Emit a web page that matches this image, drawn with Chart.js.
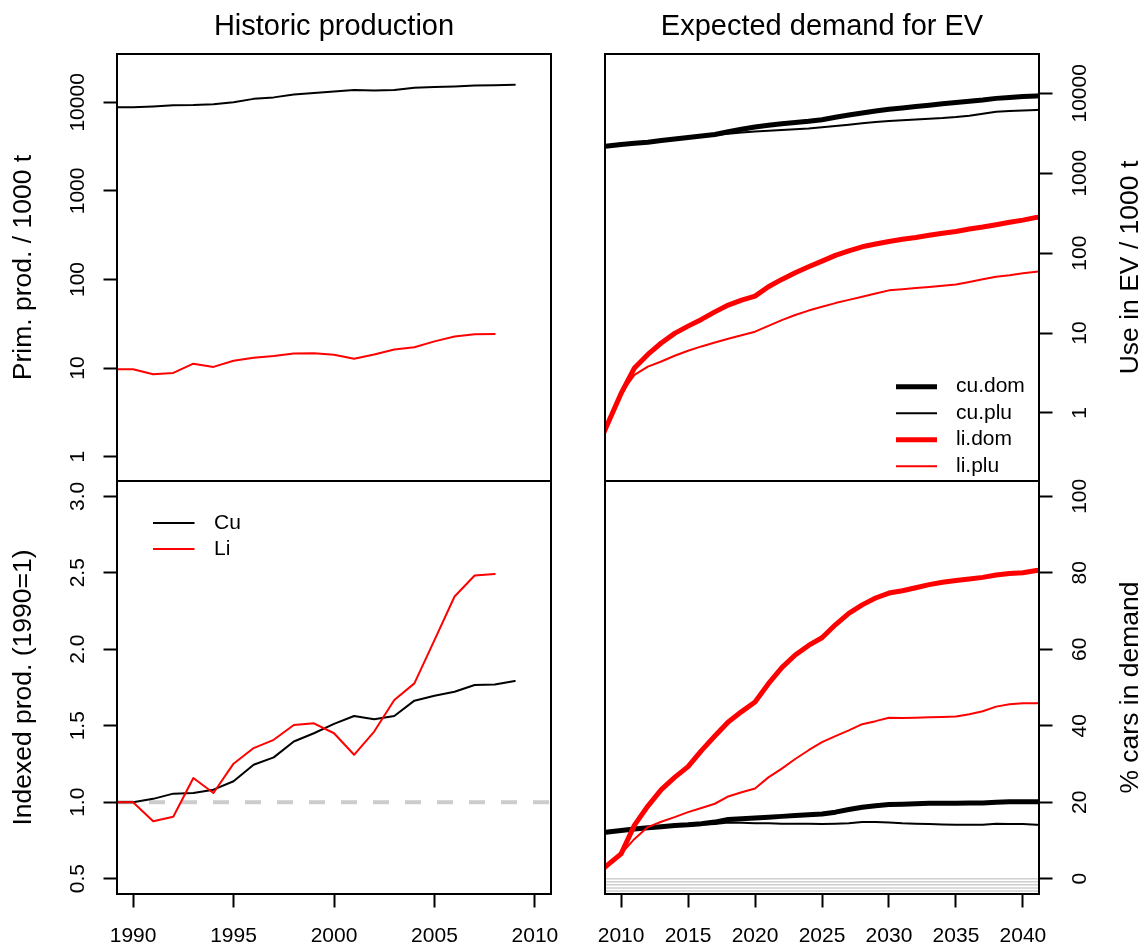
<!DOCTYPE html>
<html>
<head>
<meta charset="utf-8">
<script src="https://cdn.jsdelivr.net/npm/chart.js@4.4.0/dist/chart.umd.min.js"></script>
<style>
  body { margin: 0; background: #fff; }
  #wrap { position: relative; width: 1144px; height: 947px; }
  #wrap canvas { position: absolute; left: 0; top: 0; }
</style>
</head>
<body>
<div id="wrap">
  <canvas id="histTop" width="1144" height="947"></canvas>
  <canvas id="histIdx" width="1144" height="947"></canvas>
  <canvas id="evTop" width="1144" height="947"></canvas>
  <canvas id="evPct" width="1144" height="947"></canvas>
</div>
<script>
// ---- data ----
const histYears = [1989, 1990, 1991, 1992, 1993, 1994, 1995, 1996, 1997, 1998, 1999,
                   2000, 2001, 2002, 2003, 2004, 2005, 2006, 2007, 2008, 2009]
// primary production, 1000 t
const cuProd = [8800, 8800, 9000, 9290, 9330, 9520, 10000, 10950, 11380, 12290, 12770,
                13300, 13760, 13570, 13760, 14640, 14920, 15150, 15540, 15580, 15770]
const liProd = [9.7, 9.7, 8.5, 8.8, 11.2, 10.3, 12.1, 13.1, 13.7, 14.6, 14.7,
                14.1, 12.7, 14.2, 16.2, 17.2, 20.0, 22.7, 24.1, 24.2, null]
// indexed production (1990 = 1)
const cuIndex = [1.0, 1.0, 1.022, 1.056, 1.06, 1.082, 1.137, 1.245, 1.293, 1.397, 1.451,
                 1.512, 1.564, 1.542, 1.564, 1.664, 1.696, 1.722, 1.766, 1.77, 1.792]
const liIndex = [1.0, 1.0, 0.876, 0.905, 1.158, 1.06, 1.252, 1.354, 1.408, 1.505, 1.516,
                 1.451, 1.31, 1.462, 1.668, 1.777, 2.06, 2.345, 2.482, 2.492, null]

const evYears = [2008, 2009, 2010, 2011, 2012, 2013, 2014, 2015, 2016, 2017, 2018, 2019,
                 2020, 2021, 2022, 2023, 2024, 2025, 2026, 2027, 2028, 2029, 2030, 2031,
                 2032, 2033, 2034, 2035, 2036, 2037, 2038, 2039, 2040, 2041, 2042]
// use in EV, 1000 t
const cuDomUse = [2100, 2190, 2290, 2370, 2450, 2570, 2690, 2800, 2920, 3060, 3300, 3550,
                  3800, 3980, 4170, 4320, 4470, 4680, 5010, 5350, 5690, 6000, 6310, 6570,
                  6840, 7100, 7410, 7660, 7940, 8250, 8650, 8900, 9120, 9290, 9450]
const cuPluUse = [2100, 2190, 2290, 2370, 2450, 2560, 2670, 2780, 2890, 3000, 3120, 3230,
                  3320, 3400, 3480, 3560, 3640, 3770, 3900, 4050, 4220, 4380, 4520, 4600,
                  4700, 4800, 4900, 5050, 5250, 5550, 5900, 6000, 6120, 6210, 6300]
const liDomUse = [0.3, 0.73, 1.75, 3.66, 5.4, 7.5, 9.9, 12.2, 14.8, 18.4, 22.4, 25.8,
                  29, 37.9, 46.9, 56.8, 67.6, 79.5, 93.7, 107, 120, 130, 140, 149,
                  157, 167, 177, 187, 200, 212, 227, 243, 259, 280, 290]
const liPluUse = [0.3, 0.73, 1.75, 3.0, 3.8, 4.4, 5.2, 6.0, 6.8, 7.6, 8.5, 9.4,
                  10.4, 12.3, 14.5, 16.8, 19.1, 21.3, 23.7, 26, 28.4, 31.3, 34.2, 35.3,
                  36.5, 37.7, 39, 40.5, 43.5, 47, 50.6, 53, 56, 58.5, 60]
// % cars in demand
const cuDomPct = [11.7, 12.2, 12.6, 13.0, 13.3, 13.6, 13.9, 14.1, 14.4, 14.8, 15.5, 15.7,
                  15.9, 16.1, 16.3, 16.5, 16.7, 16.9, 17.4, 18.1, 18.7, 19.1, 19.4, 19.5,
                  19.6, 19.7, 19.7, 19.7, 19.8, 19.8, 20.0, 20.1, 20.1, 20.1, 20.2]
const cuPluPct = [11.7, 12.2, 12.6, 13.0, 13.3, 13.6, 13.8, 13.9, 14.1, 14.3, 14.7, 14.6,
                  14.5, 14.5, 14.4, 14.4, 14.4, 14.3, 14.4, 14.5, 14.8, 14.8, 14.7, 14.5,
                  14.4, 14.3, 14.2, 14.1, 14.1, 14.1, 14.4, 14.3, 14.3, 14.1, 14.1]
const liDomPct = [0.7, 3.6, 6.5, 14.0, 19.0, 23.3, 26.5, 29.3, 33.5, 37.3, 41.0, 43.7,
                  46.2, 51.0, 55.2, 58.5, 61.0, 63.0, 66.4, 69.4, 71.6, 73.4, 74.7, 75.3,
                  76.1, 76.9, 77.5, 78.0, 78.4, 78.8, 79.4, 79.8, 80.0, 80.6, 81.0]
const liPluPct = [0.7, 3.6, 6.5, 10.4, 13.5, 14.9, 16.1, 17.4, 18.5, 19.6, 21.5, 22.6,
                  23.6, 26.5, 28.8, 31.3, 33.6, 35.7, 37.3, 38.8, 40.4, 41.2, 42.1, 42.0,
                  42.1, 42.2, 42.3, 42.4, 43.0, 43.8, 45.0, 45.6, 45.9, 45.9, 46.0]
// grey hatching below zero in the % panel
const hatchLevels = [0, -0.8, -1.6, -2.4, -3.2]

// axis limits and tick labels
const histXRange = [1989.2, 2010.8]
const evXRange = [2008.8, 2041.2]
const histXTicks = [1990, 1995, 2000, 2005, 2010]
const evXTicks = [2010, 2015, 2020, 2025, 2030, 2035, 2040]
const prodRange = [0.53, 35160]
const useRange = [0.1406, 31080]
const logTicks = [1, 10, 100, 1000, 10000]
const logLabels = ['1', '10', '100', '1000', '10000']
const idxRange = [0.4, 3.1]
const idxTicks = [0.5, 1.0, 1.5, 2.0, 2.5, 3.0]
const idxLabels = ['0.5', '1.0', '1.5', '2.0', '2.5', '3.0']
const pctRange = [-4, 104]
const pctTicks = [0, 20, 40, 60, 80, 100]
const pctLabels = ['0', '20', '40', '60', '80', '100']

// ---- layout ----
const FONT = "'Liberation Sans', Arial, sans-serif"
const TICK_PX = 21
const TICK_LEN = 13.5
const PAGE_W = 1144, PAGE_H = 947
const BOX = { l1: 117, r1: 551, l2: 605, r2: 1039, top: 54, mid: 481, bottom: 894 }
const Y_LAB_LEFT = 78, Y_LAB_RIGHT = 1080

Chart.defaults.font.family = FONT
Chart.defaults.color = '#000'

const tickGrid = { drawOnChartArea: false, drawTicks: true, tickLength: TICK_LEN, tickWidth: 2, tickColor: '#000' }

// y tick labels are written parallel to the axis (drawn in panelDeco)
const yLabelText = {}

function yAxis(id, type, range, ticks, labels, side) {
    yLabelText[id] = { side: side, ticks: ticks, labels: labels }
    return {
        type: type, position: side, min: range[0], max: range[1],
        border: { display: false },
        grid: tickGrid,
        ticks: { display: false, autoSkip: false },
        afterBuildTicks: (s) => { s.ticks = ticks.map(v => ({ value: v })) },
        afterFit: (s) => {
            s.width = side === 'left' ? BOX.l1 : PAGE_W - BOX.r2
            s.paddingTop = s.paddingBottom = s.paddingLeft = s.paddingRight = 0
        }
    }
}

function xAxis(range, ticks, show) {
    return {
        type: 'linear', position: 'bottom', display: show, min: range[0], max: range[1],
        border: { display: false },
        grid: tickGrid,
        ticks: { autoSkip: false, minRotation: 0, maxRotation: 0, padding: 16,
                 font: { size: TICK_PX }, callback: (v) => String(v) },
        afterBuildTicks: (s) => { s.ticks = ticks.map(v => ({ value: v })) },
        afterFit: (s) => {
            s.height = show ? PAGE_H - BOX.bottom : 0
            s.paddingLeft = s.paddingRight = 0
        }
    }
}

function line(label, xs, ys, color, width, order, extra) {
    return Object.assign({
        label: label, inLegend: true,
        data: xs.map((x, i) => ({ x: x, y: ys[i] })),
        borderColor: color, borderWidth: width, pointRadius: 0, tension: 0,
        fill: false, clip: 0, order: order,
        borderJoinStyle: 'round', borderCapStyle: 'round'
    }, extra || {})
}

// box, titles, y tick labels and legend of each panel
const panelDeco = {
    id: 'panelDeco',
    afterDatasetsDraw(chart, args, o) {
        const ctx = chart.ctx
        const a = chart.chartArea
        ctx.save()
        ctx.strokeStyle = '#000'
        ctx.lineWidth = 2
        ctx.strokeRect(a.left, a.top, a.right - a.left, a.bottom - a.top)

        ctx.fillStyle = '#000'
        if (o.title) {
            ctx.font = '29px ' + FONT
            ctx.textAlign = 'center'
            ctx.textBaseline = 'alphabetic'
            ctx.fillText(o.title, (a.left + a.right) / 2, 35)
        }

        // y tick labels, rotated like R's las = 0
        const yl = yLabelText[chart.canvas.id]
        const ys = chart.scales.y
        ctx.font = TICK_PX + 'px ' + FONT
        ctx.textAlign = 'center'
        ctx.textBaseline = 'middle'
        yl.ticks.forEach((v, i) => {
            ctx.save()
            ctx.translate(yl.side === 'left' ? Y_LAB_LEFT : Y_LAB_RIGHT, ys.getPixelForValue(v))
            ctx.rotate(-Math.PI / 2)
            ctx.fillText(yl.labels[i], 0, 0)
            ctx.restore()
        })

        ctx.save()
        ctx.font = '26.5px ' + FONT
        ctx.textAlign = 'center'
        ctx.textBaseline = 'middle'
        ctx.translate(o.side === 'left' ? a.left - 93 : a.right + 92, (a.top + a.bottom) / 2)
        ctx.rotate(-Math.PI / 2)
        ctx.fillText(o.yTitle, 0, 0)
        ctx.restore()

        if (o.legend) {
            const lg = o.legend
            const items = chart.data.datasets.filter(d => d.inLegend)
            ctx.font = TICK_PX + 'px ' + FONT
            ctx.textAlign = 'left'
            ctx.textBaseline = 'middle'
            items.forEach((d, i) => {
                const y = lg.y + i * lg.dy
                ctx.beginPath()
                ctx.strokeStyle = d.borderColor
                ctx.lineWidth = d.borderWidth
                ctx.lineCap = 'butt'
                ctx.moveTo(lg.x, y)
                ctx.lineTo(lg.x + lg.len, y)
                ctx.stroke()
                ctx.fillStyle = '#000'
                ctx.fillText(d.label, lg.textX, y)
            })
        }
        ctx.restore()
    }
}

function makeChart(id, datasets, scales, padding, deco) {
    return new Chart(document.getElementById(id), {
        type: 'line',
        data: { datasets: datasets },
        options: {
            responsive: false, animation: false, devicePixelRatio: 1,
            layout: { padding: padding },
            scales: scales,
            plugins: { legend: { display: false }, tooltip: { enabled: false }, panelDeco: deco }
        },
        plugins: [panelDeco]
    })
}

// top left: historic production, log scale
makeChart('histTop', [
    line('Cu', histYears, cuProd, '#000', 2, 2),
    line('Li', histYears, liProd, '#ff0000', 2, 1)
], {
    x: xAxis(histXRange, histXTicks, false),
    y: yAxis('histTop', 'logarithmic', prodRange, logTicks, logLabels, 'left')
}, { left: 0, top: BOX.top, right: PAGE_W - BOX.r1, bottom: PAGE_H - BOX.mid },
{ title: 'Historic production', yTitle: 'Prim. prod. / 1000 t', side: 'left' })

// bottom left: indexed production
makeChart('histIdx', [
    line('Cu', histYears, cuIndex, '#000', 2, 2),
    line('Li', histYears, liIndex, '#ff0000', 2, 1),
    line('', histXRange, [1, 1], '#cccccc', 4, 5,
         { inLegend: false, borderDash: [16, 16], borderCapStyle: 'butt' })
], {
    x: xAxis(histXRange, histXTicks, true),
    y: yAxis('histIdx', 'linear', idxRange, idxTicks, idxLabels, 'left')
}, { left: 0, top: BOX.mid, right: PAGE_W - BOX.r1, bottom: 0 },
{ yTitle: 'Indexed prod. (1990=1)', side: 'left',
  legend: { x: 153, len: 41.5, textX: 214, y: 523, dy: 26 } })

// top right: expected use in EV, log scale
makeChart('evTop', [
    line('cu.dom', evYears, cuDomUse, '#000', 5, 4),
    line('cu.plu', evYears, cuPluUse, '#000', 2, 3),
    line('li.dom', evYears, liDomUse, '#ff0000', 5, 2),
    line('li.plu', evYears, liPluUse, '#ff0000', 2, 1)
], {
    x: xAxis(evXRange, evXTicks, false),
    y: yAxis('evTop', 'logarithmic', useRange, logTicks, logLabels, 'right')
}, { left: BOX.l2, top: BOX.top, right: 0, bottom: PAGE_H - BOX.mid },
{ title: 'Expected demand for EV', yTitle: 'Use in EV / 1000 t', side: 'right',
  legend: { x: 896, len: 41, textX: 956, y: 386.7, dy: 26.5 } })

// bottom right: share of cars in demand
const hatch = hatchLevels.map(h => line('', evXRange, [h, h], '#cfcfcf', 1.5, 10,
                                        { inLegend: false, borderCapStyle: 'butt' }))
makeChart('evPct', hatch.concat([
    line('cu.dom', evYears, cuDomPct, '#000', 5, 4),
    line('cu.plu', evYears, cuPluPct, '#000', 2, 3),
    line('li.dom', evYears, liDomPct, '#ff0000', 5, 2),
    line('li.plu', evYears, liPluPct, '#ff0000', 2, 1)
]), {
    x: xAxis(evXRange, evXTicks, true),
    y: yAxis('evPct', 'linear', pctRange, pctTicks, pctLabels, 'right')
}, { left: BOX.l2, top: BOX.mid, right: 0, bottom: 0 },
{ yTitle: '% cars in demand', side: 'right' })
</script>
</body>
</html>
